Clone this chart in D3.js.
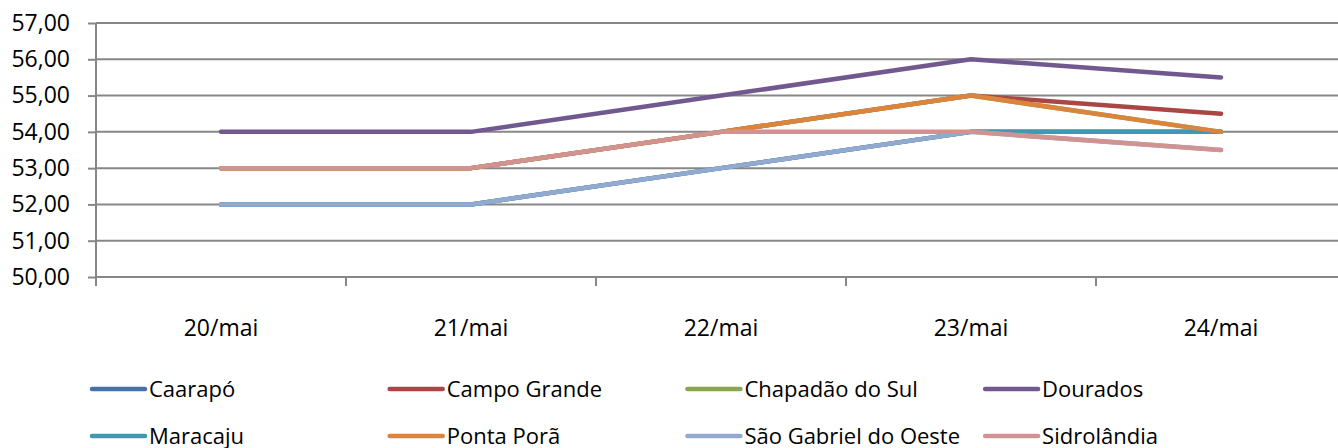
<!DOCTYPE html>
<html>
<head>
<meta charset="utf-8">
<script src="https://cdn.jsdelivr.net/npm/d3@7"></script>
<style>
  body { margin: 0; background: #fff; }
  text { font-family: "Open Sans", sans-serif; fill: #000; }
</style>
</head>
<body>
<svg id="grafico" width="1338" height="448"></svg>
<script>
// Datas (eixo X)
const datas = ["20/mai", "21/mai", "22/mai", "23/mai", "24/mai"];

// Cidades na ordem da legenda
const cidades = ["Caarapó", "Campo Grande", "Chapadão do Sul", "Dourados",
                 "Maracaju", "Ponta Porã", "São Gabriel do Oeste", "Sidrolândia"];

// Valores por cidade
const caarapo     = [52, 52, 53, 54, 54];
const campoGrande = [53, 53, 54, 55, 54.5];
const chapadao    = [53, 53, 54, 55, 54];
const dourados    = [54, 54, 55, 56, 55.5];
const maracaju    = [52, 52, 53, 54, 54];
const pontaPora   = [53, 53, 54, 55, 54];
const saoGabriel  = [52, 52, 53, 54, 53.5];
const sidrolandia = [53, 53, 54, 54, 53.5];

// Ticks do eixo Y
const ticksY = [50, 51, 52, 53, 54, 55, 56, 57];

const cores = ["#4572A7", "#AA4643", "#89A54E", "#71588F",
               "#4198AF", "#DB843D", "#93A9CF", "#D19392"];

const series = [caarapo, campoGrande, chapadao, dourados,
                maracaju, pontaPora, saoGabriel, sidrolandia]
  .map((v, i) => ({ nome: cidades[i], cor: cores[i], valores: v }));

const svg = d3.select("#grafico");
const margem = { top: 23, left: 96, bottom: 277, right: 1346 };

const x = d3.scaleBand().domain(datas).range([margem.left, margem.right]);
const y = d3.scaleLinear().domain([50, 57]).range([margem.bottom, margem.top]);

const fmt = v => d3.format(".2f")(v).replace(".", ",");

// Linhas de grade + eixo Y
const eixoY = svg.append("g")
  .attr("transform", `translate(${margem.left},0)`)
  .call(d3.axisLeft(y).tickValues(ticksY).tickSize(8).tickFormat(fmt));
eixoY.select(".domain").remove();
eixoY.selectAll(".tick line").attr("stroke", "#878787").attr("stroke-width", 2);
eixoY.selectAll(".tick text").attr("x", -26).style("font-size", "23px");

svg.append("g").selectAll("line")
  .data(ticksY)
  .join("line")
  .attr("x1", margem.left).attr("x2", 1338)
  .attr("y1", d => y(d)).attr("y2", d => y(d))
  .attr("stroke", "#878787").attr("stroke-width", 2);

svg.append("line")
  .attr("x1", margem.left).attr("x2", margem.left)
  .attr("y1", margem.top).attr("y2", margem.bottom + 9)
  .attr("stroke", "#878787").attr("stroke-width", 2);

// Eixo X
const eixoX = svg.append("g")
  .attr("transform", `translate(0,${margem.bottom})`)
  .call(d3.axisBottom(x).tickSize(0).tickPadding(43));
eixoX.select(".domain").remove();
eixoX.selectAll(".tick text").style("font-size", "23px");

svg.append("g").selectAll("line")
  .data(datas)
  .join("line")
  .attr("x1", d => x(d)).attr("x2", d => x(d))
  .attr("y1", margem.bottom).attr("y2", margem.bottom + 9)
  .attr("stroke", "#878787").attr("stroke-width", 2);

// Linhas das séries
const linha = d3.line()
  .x((d, i) => x(datas[i]) + x.bandwidth() / 2)
  .y(d => y(d));

svg.append("g").selectAll("path")
  .data(series)
  .join("path")
  .attr("d", d => linha(d.valores))
  .attr("fill", "none")
  .attr("stroke", d => d.cor)
  .attr("stroke-width", 4.5)
  .attr("stroke-linecap", "round")
  .attr("stroke-linejoin", "round");

// Legenda
const legenda = svg.append("g").selectAll("g")
  .data(series)
  .join("g")
  .attr("transform", (d, i) => `translate(${90 + (i % 4) * 297.7},${389 + Math.floor(i / 4) * 47})`);

legenda.append("line")
  .attr("x1", 2).attr("x2", 55)
  .attr("stroke", d => d.cor)
  .attr("stroke-width", 4.5)
  .attr("stroke-linecap", "round");

legenda.append("text")
  .attr("x", 59)
  .attr("dy", "0.35em")
  .style("font-size", "22px")
  .text(d => d.nome);
</script>
</body>
</html>
